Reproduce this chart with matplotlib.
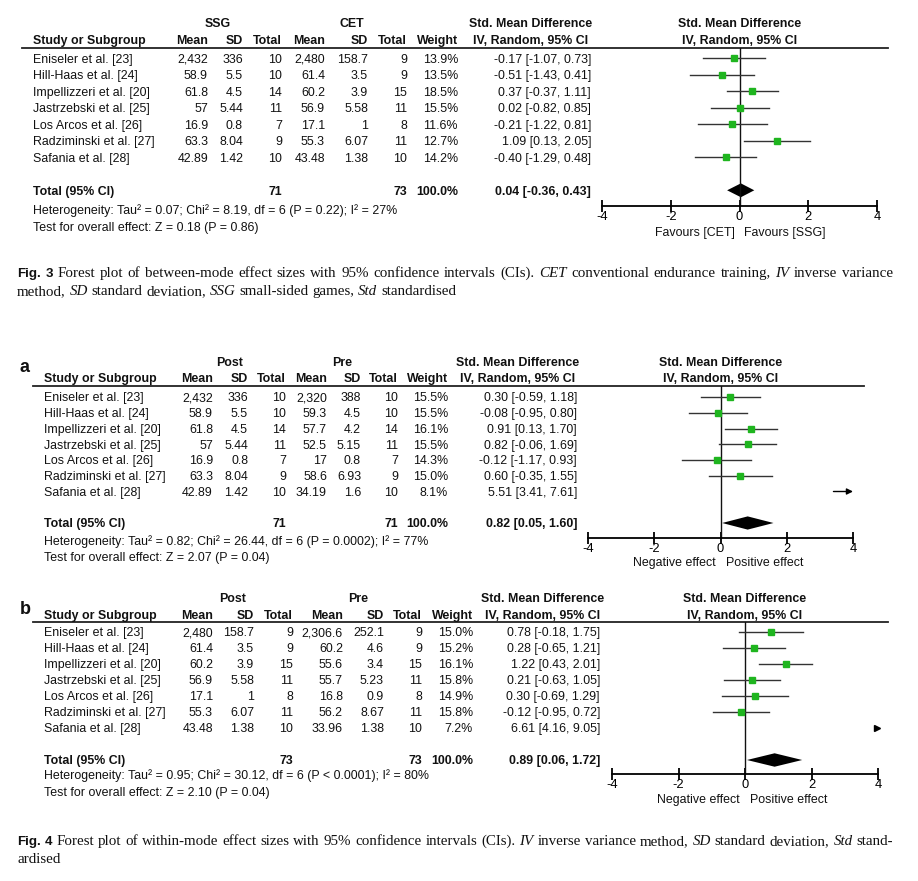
import matplotlib
matplotlib.use('Agg')
import matplotlib.pyplot as plt
import numpy as np

plt.rcParams['font.family'] = ['Liberation Sans', 'DejaVu Sans']

# ---- data ----
studies = ["Eniseler et al. [23]", "Hill-Haas et al. [24]", "Impellizzeri et al. [20]",
           "Jastrzebski et al. [25]", "Los Arcos et al. [26]", "Radziminski et al. [27]",
           "Safania et al. [28]"]

# Fig. 3  SSG vs CET
f3_ssg_mean = ["2,432", "58.9", "61.8", "57", "16.9", "63.3", "42.89"]
f3_ssg_sd = ["336", "5.5", "4.5", "5.44", "0.8", "8.04", "1.42"]
f3_ssg_n = [10, 10, 14, 11, 7, 9, 10]
f3_cet_mean = ["2,480", "61.4", "60.2", "56.9", "17.1", "55.3", "43.48"]
f3_cet_sd = ["158.7", "3.5", "3.9", "5.58", "1", "6.07", "1.38"]
f3_cet_n = [9, 9, 15, 11, 8, 11, 10]
f3_weight = [13.9, 13.5, 18.5, 15.5, 11.6, 12.7, 14.2]
f3_smd = [-0.17, -0.51, 0.37, 0.02, -0.21, 1.09, -0.40]
f3_lo = [-1.07, -1.43, -0.37, -0.82, -1.22, 0.13, -1.29]
f3_hi = [0.73, 0.41, 1.11, 0.85, 0.81, 2.05, 0.48]
f3_total = [0.04, -0.36, 0.43]

# Fig. 4a  SSG post vs pre
f4a_post_mean = ["2,432", "58.9", "61.8", "57", "16.9", "63.3", "42.89"]
f4a_post_sd = ["336", "5.5", "4.5", "5.44", "0.8", "8.04", "1.42"]
f4a_post_n = [10, 10, 14, 11, 7, 9, 10]
f4a_pre_mean = ["2,320", "59.3", "57.7", "52.5", "17", "58.6", "34.19"]
f4a_pre_sd = ["388", "4.5", "4.2", "5.15", "0.8", "6.93", "1.6"]
f4a_pre_n = [10, 10, 14, 11, 7, 9, 10]
f4a_weight = [15.5, 15.5, 16.1, 15.5, 14.3, 15.0, 8.1]
f4a_smd = [0.30, -0.08, 0.91, 0.82, -0.12, 0.60, 5.51]
f4a_lo = [-0.59, -0.95, 0.13, -0.06, -1.17, -0.35, 3.41]
f4a_hi = [1.18, 0.80, 1.70, 1.69, 0.93, 1.55, 7.61]
f4a_total = [0.82, 0.05, 1.60]

# Fig. 4b  CET post vs pre
f4b_post_mean = ["2,480", "61.4", "60.2", "56.9", "17.1", "55.3", "43.48"]
f4b_post_sd = ["158.7", "3.5", "3.9", "5.58", "1", "6.07", "1.38"]
f4b_post_n = [9, 9, 15, 11, 8, 11, 10]
f4b_pre_mean = ["2,306.6", "60.2", "55.6", "55.7", "16.8", "56.2", "33.96"]
f4b_pre_sd = ["252.1", "4.6", "3.4", "5.23", "0.9", "8.67", "1.38"]
f4b_pre_n = [9, 9, 15, 11, 8, 11, 10]
f4b_weight = [15.0, 15.2, 16.1, 15.8, 14.9, 15.8, 7.2]
f4b_smd = [0.78, 0.28, 1.22, 0.21, 0.30, -0.12, 6.61]
f4b_lo = [-0.18, -0.65, 0.43, -0.63, -0.69, -0.95, 4.16]
f4b_hi = [1.75, 1.21, 2.01, 1.05, 1.29, 0.72, 9.05]
f4b_total = [0.89, 0.06, 1.72]

xticks = [-4, -2, 0, 2, 4]
xtick_labels = ["-4", "-2", "0", "2", "4"]

panels = [
    dict(groups=("SSG", "CET"), m1=f3_ssg_mean, sd1=f3_ssg_sd, n1=f3_ssg_n,
         m2=f3_cet_mean, sd2=f3_cet_sd, n2=f3_cet_n, w=f3_weight,
         est=f3_smd, lo=f3_lo, hi=f3_hi, total=f3_total,
         het="Heterogeneity: Tau\u00b2 = 0.07; Chi\u00b2 = 8.19, df = 6 (P = 0.22); I\u00b2 = 27%",
         test="Test for overall effect: Z = 0.18 (P = 0.86)",
         fav=("Favours [CET]", "Favours [SSG]"), label=None),
    dict(groups=("Post", "Pre"), m1=f4a_post_mean, sd1=f4a_post_sd, n1=f4a_post_n,
         m2=f4a_pre_mean, sd2=f4a_pre_sd, n2=f4a_pre_n, w=f4a_weight,
         est=f4a_smd, lo=f4a_lo, hi=f4a_hi, total=f4a_total,
         het="Heterogeneity: Tau\u00b2 = 0.82; Chi\u00b2 = 26.44, df = 6 (P = 0.0002); I\u00b2 = 77%",
         test="Test for overall effect: Z = 2.07 (P = 0.04)",
         fav=("Negative effect", "Positive effect"), label="a"),
    dict(groups=("Post", "Pre"), m1=f4b_post_mean, sd1=f4b_post_sd, n1=f4b_post_n,
         m2=f4b_pre_mean, sd2=f4b_pre_sd, n2=f4b_pre_n, w=f4b_weight,
         est=f4b_smd, lo=f4b_lo, hi=f4b_hi, total=f4b_total,
         het="Heterogeneity: Tau\u00b2 = 0.95; Chi\u00b2 = 30.12, df = 6 (P < 0.0001); I\u00b2 = 80%",
         test="Test for overall effect: Z = 2.10 (P = 0.04)",
         fav=("Negative effect", "Positive effect"), label="b"),
]

# ---- layout (pixels, top-down) ----
layouts = [
    dict(ygrp=23, yhdr=40, yline=48, xline=(22, 888), xstudy=33, grp_x=(218, 352),
         cols=[208, 243, 282, 325, 368, 407, 458, 591], smd_c=531,
         y0=58.3, dy=16.5, yhet=210, ytest=227, xax=(602, 877), yax=206, yfav=232, lab=None),
    dict(ygrp=362, yhdr=378, yline=386, xline=(33, 864), xstudy=44, grp_x=(230, 342),
         cols=[213, 248, 286, 327, 361, 398, 448, 577], smd_c=518,
         y0=397, dy=15.75, yhet=541, ytest=557, xax=(588, 853), yax=538, yfav=562, lab=(25, 365)),
    dict(ygrp=598, yhdr=615, yline=622, xline=(33, 888), xstudy=44, grp_x=(233, 358),
         cols=[213, 254, 293, 343, 384, 422, 473, 600], smd_c=543,
         y0=632, dy=16, yhet=775, ytest=792, xax=(612, 878), yax=774, yfav=799, lab=(25, 607)),
]

W, H = 918, 881
FS = 8.9
GREEN = '#1fb51f'

fig = plt.figure(figsize=(W / 100, H / 100), dpi=100)
bg = fig.add_axes([0, 0, 1, 1])
bg.set_xlim(0, W)
bg.set_ylim(H, 0)
bg.axis('off')


def txt(x, y, s, ha='left', bold=False, size=FS):
    # y is the visual centre of the capitals; place on a shared baseline
    bg.text(x, y + 0.36 * size * 100 / 72, s, ha=ha, va='baseline', fontsize=size,
            fontweight='bold' if bold else 'normal', color='#111111')


for p, L in zip(panels, layouts):
    c = L['cols']
    # headers
    txt(L['grp_x'][0], L['ygrp'], p['groups'][0], ha='center', bold=True)
    txt(L['grp_x'][1], L['ygrp'], p['groups'][1], ha='center', bold=True)
    txt(L['smd_c'], L['ygrp'], "Std. Mean Difference", ha='center', bold=True)
    txt(L['xstudy'], L['yhdr'], "Study or Subgroup", bold=True)
    for x, s in zip(c[:7], ["Mean", "SD", "Total", "Mean", "SD", "Total", "Weight"]):
        txt(x, L['yhdr'], s, ha='right', bold=True)
    txt(L['smd_c'], L['yhdr'], "IV, Random, 95% CI", ha='center', bold=True)
    bg.plot(L['xline'], [L['yline'], L['yline']], color='#222222', lw=1.3)
    if L['lab']:
        txt(L['lab'][0], L['lab'][1], p['label'], ha='center', bold=True, size=13)

    # study rows
    for i, name in enumerate(studies):
        y = L['y0'] + i * L['dy']
        txt(L['xstudy'], y, name)
        vals = [p['m1'][i], p['sd1'][i], str(p['n1'][i]), p['m2'][i], p['sd2'][i],
                str(p['n2'][i]), f"{p['w'][i]:.1f}%",
                f"{p['est'][i]:.2f} [{p['lo'][i]:.2f}, {p['hi'][i]:.2f}]"]
        for x, s in zip(c, vals):
            txt(x, y, s, ha='right')

    # totals
    yt = L['y0'] + 8 * L['dy']
    t = p['total']
    txt(L['xstudy'], yt, "Total (95% CI)", bold=True)
    txt(c[2], yt, str(sum(p['n1'])), ha='right', bold=True)
    txt(c[5], yt, str(sum(p['n2'])), ha='right', bold=True)
    txt(c[6], yt, "100.0%", ha='right', bold=True)
    txt(c[7], yt, f"{t[0]:.2f} [{t[1]:.2f}, {t[2]:.2f}]", ha='right', bold=True)
    txt(L['xstudy'], L['yhet'], p['het'])
    txt(L['xstudy'], L['ytest'], p['test'])

    # forest axes
    x0, x1 = L['xax']
    ax = fig.add_axes([x0 / W, 1 - L['yax'] / H, (x1 - x0) / W, (L['yax'] - L['yline']) / H])
    ax.patch.set_alpha(0)
    ax.set_xlim(-4, 4)
    ax.set_ylim((L['yax'] - L['y0']) / L['dy'], (L['yline'] - L['y0']) / L['dy'])
    for s in ['top', 'left', 'right']:
        ax.spines[s].set_visible(False)
    ax.spines['bottom'].set_linewidth(1.3)
    ax.set_yticks([])
    ax.set_xticks(xticks)
    ax.set_xticklabels(xtick_labels, fontsize=FS + 0.4)
    ax.tick_params(axis='x', direction='inout', length=8, width=1.3, pad=-0.5)
    ax.axvline(0, color='#111111', lw=1.0)

    for i in range(len(studies)):
        e, lo, hi, w = p['est'][i], p['lo'][i], p['hi'][i], p['w'][i]
        ms = 1.1 * np.sqrt(w)
        if lo >= 4:
            ax.plot([3.97], [i], marker='>', color='k', ms=4, clip_on=False)
        elif hi > 4:
            ax.annotate('', xy=(4, i), xytext=(lo, i),
                        arrowprops=dict(arrowstyle='-|>', color='k', lw=1.0,
                                        mutation_scale=9, shrinkA=0, shrinkB=0))
        else:
            ax.plot([lo, hi], [i, i], color='#333333', lw=1.0)
            ax.plot([e], [i], marker='s', ms=ms, color=GREEN, mec=GREEN)

    h = 0.42
    ax.fill([t[1], t[0], t[2], t[0]], [8, 8 - h, 8, 8 + h], color='k', lw=0)

    # right headers and favours labels
    xc = (x0 + x1) / 2
    txt(xc, L['ygrp'], "Std. Mean Difference", ha='center', bold=True)
    txt(xc, L['yhdr'], "IV, Random, 95% CI", ha='center', bold=True)
    txt(xc - 5, L['yfav'], p['fav'][0], ha='right')
    txt(xc + 5, L['yfav'], p['fav'][1], ha='left')


# ---- captions ----
renderer = fig.canvas.get_renderer()
SERIF = ['Liberation Serif', 'DejaVu Serif']
CS = 10.8


def rich_line(x0, y, segs, width=None):
    items = []
    for s, style in segs:
        for wd in s.split(' '):
            if not wd:
                continue
            if style == 'fig':
                kw = dict(family=['Liberation Sans'], fontweight='bold', fontsize=CS - 1.2)
            elif style == 'it':
                kw = dict(family=SERIF, style='italic', fontsize=CS)
            else:
                kw = dict(family=SERIF, fontsize=CS)
            t = bg.text(0, y, wd, ha='left', va='baseline', color='#111111', **kw)
            items.append((t, t.get_window_extent(renderer=renderer).width))
    sp = bg.text(0, y, 'a a', family=SERIF, fontsize=CS)
    sa = bg.text(0, y, 'aa', family=SERIF, fontsize=CS)
    space = sp.get_window_extent(renderer=renderer).width - sa.get_window_extent(renderer=renderer).width
    sp.remove()
    sa.remove()
    total = sum(wd for _, wd in items)
    gap = (width - total) / (len(items) - 1) if width else space
    x = x0
    for t, wd in items:
        t.set_x(x)
        x += wd + gap


rich_line(17, 277, [("Fig. 3", 'fig'),
                    ("Forest plot of between-mode effect sizes with 95% confidence intervals (CIs).", 'rm'),
                    ("CET", 'it'), ("conventional endurance training,", 'rm'), ("IV", 'it'),
                    ("inverse variance", 'rm')], width=876)
rich_line(17, 295, [("method,", 'rm'), ("SD", 'it'), ("standard deviation,", 'rm'), ("SSG", 'it'),
                    ("small-sided games,", 'rm'), ("Std", 'it'), ("standardised", 'rm')])
rich_line(17, 845, [("Fig. 4", 'fig'),
                    ("Forest plot of within-mode effect sizes with 95% confidence intervals (CIs).", 'rm'),
                    ("IV", 'it'), ("inverse variance method,", 'rm'), ("SD", 'it'),
                    ("standard deviation,", 'rm'), ("Std", 'it'), ("stand-", 'rm')], width=876)
rich_line(17, 863, [("ardised", 'rm')])

fig.savefig('out.png', dpi=100)
